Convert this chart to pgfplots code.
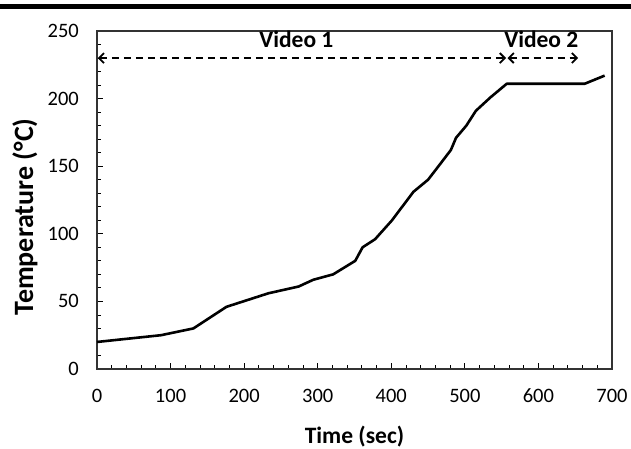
\documentclass[border=0pt]{standalone}
\usepackage{fontspec}
\setmainfont{Carlito}
\usepackage{pgfplots}
\pgfplotsset{compat=1.18}
\usetikzlibrary{arrows.meta}
\begin{document}
\begin{tikzpicture}
\begin{axis}[
  at={(0,0)}, anchor=south west,
  scale only axis,
  width=515pt, height=338pt,
  xmin=0, xmax=700, ymin=0, ymax=250,
  xtick={0,100,...,700}, ytick={0,50,...,250},
  minor x tick num=4, minor y tick num=4,
  tick align=inside, tick pos=left,
  major tick length=6pt, minor tick length=4pt,
  every tick/.style={black, line width=0.8pt},
  axis line style={black!80, line width=1.1pt},
  /pgf/number format/assume math mode=true,
  tick label style={font=\fontsize{20.5}{24}\selectfont},
  xticklabel style={anchor=center, yshift=-27pt},
  yticklabel style={anchor=east, inner sep=0pt, xshift=-18pt},
  xlabel={\textbf{Time (sec)}},
  ylabel={\textbf{Temperature (°C)}},
  xlabel style={font=\fontsize{23.5}{27}\selectfont, at={(rel axis cs:0.5,0)}, anchor=center, yshift=-68pt},
  ylabel style={font=\fontsize{28}{32}\selectfont, at={(rel axis cs:0,0.45)}, anchor=center, rotate=0, yshift=72pt},
  clip=false,
]
\addplot[black, line width=2.6pt, line join=round] coordinates {
  (0,20) (87,25) (131,30) (176,46) (233,56) (274,61) (294,66) (321,70)
  (351,80) (361,90) (378,96) (401,110) (430,131) (450,140) (467,152)
  (481,162) (488,171) (502,180) (515,191) (535,201) (557,211)
  (663,211) (690,217)
};
\draw[black, line width=1.8pt, dash pattern=on 7pt off 5pt,
  {Straight Barb[length=5pt,width=10pt,line width=1.8pt]}-{Straight Barb[length=5pt,width=10pt,line width=1.8pt]}]
  (axis cs:1,230) -- (axis cs:556,230);
\draw[black, line width=1.8pt, dash pattern=on 7pt off 5pt,
  {Straight Barb[length=5pt,width=10pt,line width=1.8pt]}-{Straight Barb[length=5pt,width=10pt,line width=1.8pt]}]
  (axis cs:558,230) -- (axis cs:654,230);
\node[font=\fontsize{23.5}{27}\selectfont\bfseries] at (axis cs:271,244) {Video 1};
\node[font=\fontsize{23.5}{27}\selectfont\bfseries] at (axis cs:604,244) {Video 2};
\end{axis}
\draw[black, line width=5pt] (-97pt,362pt) -- (534pt,362pt);
\pgfresetboundingbox
\path[use as bounding box] (-97pt,-80pt) rectangle (534pt,369pt);
\end{tikzpicture}
\end{document}
